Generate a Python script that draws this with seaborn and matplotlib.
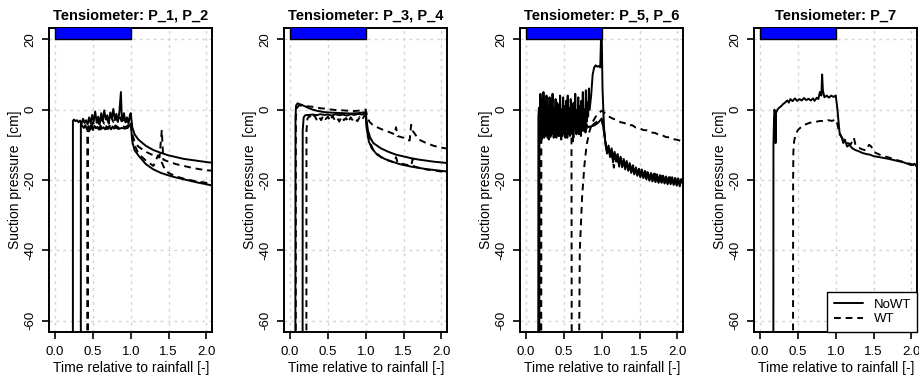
import matplotlib
matplotlib.use("Agg")
import matplotlib.pyplot as plt
from matplotlib.lines import Line2D
import seaborn as sns
import pandas as pd

sns.set_style("white")
plt.rcParams["font.family"] = ["Liberation Sans", "DejaVu Sans"]
for k in ["text.color", "axes.labelcolor", "xtick.color", "ytick.color"]:
    plt.rcParams[k] = "black"

# ---------------- data (time relative to rainfall, suction pressure cm) ----------------
titles = ["Tensiometer: P_1, P_2", "Tensiometer: P_3, P_4",
          "Tensiometer: P_5, P_6", "Tensiometer: P_7"]
x_ticks = [0.0, 0.5, 1.0, 1.5, 2.0]
x_tick_labels = ["0.0", "0.5", "1.0", "1.5", "2.0"]
y_ticks = [-60, -40, -20, 0, 20]
rain_start, rain_end = 0.0, 1.0
legend_labels = ["NoWT", "WT"]

p1_nowt = [(0.235, -100), (0.236, -3.2), (0.25, -2.8), (0.27, -3.3), (0.29, -3.0), (0.31, -3.6),
           (0.33, -3.1), (0.35, -4.0), (0.37, -2.6), (0.39, -3.8), (0.41, -3.0), (0.43, -4.2),
           (0.45, -2.2), (0.47, -3.9), (0.49, -1.5), (0.51, -3.4), (0.53, -0.5), (0.55, -3.6),
           (0.57, -2.0), (0.59, -4.1), (0.61, -1.0), (0.63, -3.3), (0.65, -0.2), (0.67, -2.8),
           (0.69, -1.6), (0.71, -4.0), (0.73, -0.8), (0.75, -2.5), (0.77, 0.2), (0.79, -3.0),
           (0.81, -1.2), (0.83, -3.5), (0.85, -0.6), (0.87, 5.0), (0.88, -1.5), (0.89, -3.2),
           (0.91, -1.0), (0.93, -3.6), (0.95, -2.2), (0.97, -4.0), (0.99, -1.4), (1.00, -1.0),
           (1.02, -5.0), (1.05, -7.0), (1.10, -8.5), (1.20, -10.3), (1.30, -11.5), (1.40, -12.3),
           (1.50, -13.0), (1.60, -13.5), (1.70, -14.0), (1.80, -14.3), (1.90, -14.6), (2.00, -14.9),
           (2.08, -15.1)]
p2_nowt = [(0.34, -100), (0.341, -4.0), (0.36, -4.6), (0.38, -5.2), (0.40, -4.4), (0.42, -5.6),
           (0.44, -4.8), (0.46, -5.4), (0.48, -4.2), (0.50, -5.8), (0.52, -4.6), (0.54, -5.3),
           (0.56, -4.9), (0.58, -5.7), (0.60, -4.5), (0.62, -5.4), (0.64, -5.0), (0.66, -5.6),
           (0.68, -4.7), (0.70, -5.5), (0.72, -5.0), (0.74, -5.6), (0.76, -4.8), (0.78, -5.4),
           (0.80, -5.1), (0.84, -5.5), (0.88, -5.2), (0.92, -5.4), (0.96, -5.2), (1.00, -4.0),
           (1.02, -9.0), (1.05, -11.5), (1.10, -13.0), (1.20, -15.5), (1.30, -17.0), (1.40, -18.0),
           (1.50, -18.7), (1.60, -19.3), (1.70, -19.8), (1.80, -20.3), (1.90, -20.8), (2.00, -21.2),
           (2.08, -21.6)]
p1_wt = [(0.425, -100), (0.426, -6.5), (0.44, -5.0), (0.46, -4.2), (0.48, -5.0), (0.50, -3.6),
         (0.53, -4.6), (0.56, -3.2), (0.59, -4.4), (0.62, -2.8), (0.65, -4.0), (0.68, -2.5),
         (0.71, -3.8), (0.74, -2.0), (0.77, -3.5), (0.80, -1.8), (0.83, -3.6), (0.86, -2.2),
         (0.89, -4.0), (0.92, -2.6), (0.95, -4.2), (0.98, -3.0), (1.00, -2.0), (1.02, -7.0),
         (1.05, -9.0), (1.10, -10.5), (1.20, -12.0), (1.30, -13.0), (1.38, -13.6), (1.41, -5.8),
         (1.43, -14.2), (1.50, -14.8), (1.60, -15.5), (1.70, -16.0), (1.80, -16.5), (1.90, -16.9),
         (2.00, -17.2), (2.08, -17.4)]
p2_wt = [(0.435, -100), (0.436, -7.5), (0.45, -6.0), (0.48, -5.2), (0.52, -5.8), (0.56, -5.0),
         (0.60, -5.6), (0.64, -4.8), (0.68, -5.5), (0.72, -4.6), (0.76, -5.3), (0.80, -4.5),
         (0.84, -5.2), (0.88, -4.4), (0.92, -5.0), (0.96, -4.6), (1.00, -3.5), (1.02, -8.0),
         (1.05, -10.0), (1.10, -12.5), (1.20, -14.5), (1.30, -16.0), (1.36, -13.0), (1.40, -14.5),
         (1.45, -17.0), (1.50, -18.0), (1.60, -19.0), (1.70, -19.6), (1.80, -20.1), (1.90, -20.5),
         (2.00, -20.8), (2.08, -21.0)]

p3_nowt = [(0.07, -100), (0.072, -2.0), (0.08, 1.2), (0.10, 1.8), (0.12, 1.6), (0.15, 1.4),
           (0.20, 0.9), (0.25, 0.4), (0.30, 0.0), (0.35, -0.3), (0.40, -0.5), (0.45, -0.7),
           (0.50, -0.8), (0.60, -0.9), (0.70, -1.0), (0.80, -1.1), (0.90, -1.0), (1.00, -0.7),
           (1.01, -3.0), (1.03, -6.0), (1.06, -8.0), (1.10, -9.5), (1.20, -11.0), (1.30, -12.0),
           (1.40, -12.8), (1.50, -13.3), (1.60, -13.8), (1.70, -14.2), (1.80, -14.5), (1.90, -14.8),
           (2.00, -15.0), (2.08, -15.2)]
p3_wt = [(0.075, -100), (0.077, -2.0), (0.09, 0.5), (0.12, 1.2), (0.16, 1.1), (0.20, 1.0),
         (0.25, 0.9), (0.30, 0.8), (0.35, 0.6), (0.40, 0.4), (0.45, 0.3), (0.50, 0.1), (0.55, 0.0),
         (0.60, -0.1), (0.65, -0.2), (0.70, -0.2), (0.75, -0.3), (0.80, -0.3), (0.85, -0.4),
         (0.90, -0.3), (0.95, -0.2), (1.00, 0.0), (1.02, -2.0), (1.05, -3.5), (1.10, -4.5),
         (1.20, -5.5), (1.30, -6.3), (1.38, -7.0), (1.40, -5.0), (1.42, -7.5), (1.50, -8.0),
         (1.58, -8.8), (1.60, -4.3), (1.62, -6.0), (1.70, -8.5), (1.80, -9.5), (1.90, -10.3),
         (2.00, -10.8), (2.08, -11.1)]
p4_nowt = [(0.165, -100), (0.167, -6.0), (0.18, -2.2), (0.20, -1.6), (0.25, -1.5), (0.30, -1.4),
           (0.35, -1.6), (0.40, -1.3), (0.45, -1.5), (0.50, -1.4), (0.55, -1.7), (0.60, -1.3),
           (0.65, -1.6), (0.70, -1.4), (0.75, -1.7), (0.80, -1.3), (0.85, -1.5), (0.90, -1.2),
           (0.95, -1.4), (1.00, -1.0), (1.01, -5.0), (1.04, -9.0), (1.08, -11.0), (1.15, -12.8),
           (1.25, -14.0), (1.35, -14.8), (1.45, -15.5), (1.60, -16.2), (1.80, -16.9), (2.00, -17.4),
           (2.08, -17.6)]
p4_wt = [(0.215, -100), (0.217, -6.0), (0.23, -2.5), (0.26, -1.8), (0.29, -2.6), (0.32, -1.6),
         (0.35, -2.8), (0.38, -1.9), (0.41, -3.0), (0.44, -1.7), (0.47, -2.7), (0.50, -2.0),
         (0.53, -3.2), (0.56, -1.8), (0.59, -2.9), (0.62, -2.2), (0.65, -3.4), (0.68, -2.0),
         (0.71, -3.0), (0.74, -2.4), (0.77, -3.6), (0.80, -2.2), (0.83, -3.1), (0.86, -2.5),
         (0.89, -3.3), (0.92, -2.1), (0.95, -2.9), (0.98, -1.8), (1.00, -1.5), (1.02, -6.0),
         (1.05, -9.0), (1.10, -11.5), (1.20, -13.5), (1.30, -14.5), (1.38, -15.0), (1.40, -13.5),
         (1.42, -15.0), (1.50, -15.5), (1.60, -16.0), (1.62, -14.0), (1.64, -16.2), (1.80, -17.0),
         (2.00, -17.6), (2.08, -17.8)]

p5_nowt = [(0.16, -100), (0.163, -2.0), (0.17, 0.5), (0.18, -7.0), (0.19, 4.5), (0.20, -5.0),
           (0.21, 3.0), (0.22, -8.0), (0.23, 5.0), (0.24, -3.0), (0.25, 2.0), (0.26, -7.5),
           (0.27, 4.0), (0.28, -4.0), (0.29, 1.0), (0.30, -8.5), (0.31, 3.5), (0.32, -6.0),
           (0.33, 2.5), (0.34, -3.5), (0.35, 4.5), (0.36, -7.0), (0.37, 0.5), (0.38, -5.0),
           (0.39, 3.0), (0.40, -8.0), (0.41, 2.0), (0.42, -4.5), (0.43, 1.5), (0.44, -7.5),
           (0.45, 4.0), (0.46, -3.0), (0.47, 0.0), (0.48, -6.5), (0.49, 3.5), (0.50, -5.0),
           (0.51, 1.0), (0.52, -8.0), (0.53, 2.5), (0.54, -4.0), (0.55, 4.0), (0.56, -6.0),
           (0.57, 0.5), (0.58, -7.5), (0.59, 3.0), (0.60, -3.5), (0.61, 1.5), (0.62, -9.0),
           (0.63, 2.0), (0.64, -5.0), (0.65, 4.5), (0.66, -6.5), (0.67, -0.5), (0.68, -4.0),
           (0.69, 3.5), (0.70, -7.0), (0.71, 1.0), (0.72, -5.5), (0.73, 2.5), (0.74, -3.0),
           (0.75, 5.0), (0.76, -6.0), (0.77, 0.0), (0.78, -4.5), (0.79, 5.5), (0.80, -3.5),
           (0.81, 2.0), (0.82, -2.0), (0.83, 6.0), (0.84, 0.0), (0.86, 4.0), (0.88, 10.0),
           (0.90, 12.0), (0.92, 12.6), (0.94, 12.2), (0.96, 12.4), (0.98, 12.0), (0.99, 20.0),
           (1.00, 20.5), (1.01, 6.0), (1.03, -5.0), (1.05, -10.0), (1.07, -12.5), (1.09, -10.8),
           (1.11, -13.5), (1.13, -11.8), (1.15, -15.0), (1.17, -12.6), (1.19, -14.8), (1.21, -13.2),
           (1.23, -16.2), (1.25, -13.8), (1.27, -16.0), (1.29, -14.5), (1.31, -17.0), (1.33, -15.0),
           (1.35, -17.2), (1.37, -15.6), (1.39, -18.0), (1.41, -16.2), (1.43, -18.4), (1.45, -16.6),
           (1.47, -18.8), (1.49, -17.0), (1.51, -19.2), (1.53, -17.4), (1.55, -19.4), (1.57, -17.8),
           (1.59, -19.8), (1.61, -18.0), (1.63, -20.2), (1.65, -18.2), (1.67, -20.4), (1.69, -18.4),
           (1.71, -20.6), (1.73, -18.6), (1.75, -20.8), (1.77, -18.8), (1.79, -20.8), (1.81, -19.0),
           (1.83, -21.0), (1.85, -19.2), (1.87, -21.2), (1.89, -19.4), (1.91, -21.2), (1.93, -19.4),
           (1.95, -21.4), (1.97, -19.6), (1.99, -21.6), (2.01, -19.6), (2.03, -21.8), (2.05, -19.8),
           (2.08, -21.0)]
p6_nowt = [(0.175, -100), (0.177, -3.0), (0.185, -6.0), (0.195, -1.0), (0.205, -8.5), (0.215, 0.0),
           (0.225, -6.0), (0.235, -2.5), (0.245, -7.0), (0.255, 1.0), (0.265, -5.5), (0.275, -1.5),
           (0.285, -8.0), (0.295, -2.0), (0.305, -6.5), (0.315, 0.5), (0.325, -7.5), (0.335, -3.0),
           (0.345, -5.0), (0.355, -0.5), (0.365, -8.0), (0.375, -2.0), (0.385, -6.0), (0.395, 1.5),
           (0.405, -5.5), (0.415, -2.5), (0.425, -7.5), (0.435, -1.0), (0.445, -6.0), (0.455, -3.5),
           (0.465, -8.5), (0.475, 0.0), (0.485, -5.0), (0.495, -2.0), (0.505, -7.0), (0.515, 1.0),
           (0.525, -6.5), (0.535, -3.0), (0.545, -8.0), (0.555, -1.5), (0.565, -5.5), (0.575, 0.5),
           (0.585, -7.0), (0.595, -2.5), (0.605, -6.0), (0.615, -1.0), (0.625, -8.0), (0.635, -3.0),
           (0.645, -5.5), (0.655, 0.0), (0.665, -7.0), (0.675, -2.0), (0.685, -6.5), (0.695, -1.5),
           (0.705, -5.0), (0.715, -3.5), (0.725, -7.5), (0.735, -1.0), (0.745, -6.0), (0.755, -2.5),
           (0.765, -5.5), (0.775, -3.0), (0.785, -6.5), (0.795, -4.0), (0.82, -5.0), (0.85, -4.8),
           (0.90, -4.5), (0.95, -3.8), (1.00, -2.5), (1.02, -5.0), (1.05, -9.5), (1.07, -12.0),
           (1.09, -10.2), (1.11, -13.0), (1.13, -11.0), (1.15, -13.8), (1.17, -12.0), (1.19, -14.6),
           (1.21, -12.6), (1.23, -15.2), (1.25, -13.4), (1.27, -16.4), (1.29, -14.0), (1.31, -16.2),
           (1.33, -14.6), (1.35, -17.4), (1.37, -15.2), (1.39, -17.6), (1.41, -15.8), (1.43, -18.2),
           (1.45, -16.4), (1.47, -18.6), (1.49, -16.8), (1.51, -19.0), (1.53, -17.0), (1.55, -19.4),
           (1.57, -17.4), (1.59, -19.6), (1.61, -17.8), (1.63, -20.0), (1.65, -18.0), (1.67, -20.2),
           (1.69, -18.2), (1.71, -20.4), (1.73, -18.4), (1.75, -20.6), (1.77, -18.6), (1.79, -20.6),
           (1.81, -18.8), (1.83, -20.8), (1.85, -19.0), (1.87, -21.0), (1.89, -19.2), (1.91, -21.0),
           (1.93, -19.2), (1.95, -21.2), (1.97, -19.4), (1.99, -21.4), (2.01, -19.6), (2.03, -21.6),
           (2.05, -19.8), (2.08, -21.4)]
p5_wt = [(0.19, -100), (0.192, -5.0), (0.20, -7.5), (0.22, -4.0), (0.24, -8.0), (0.26, -3.5),
         (0.28, -7.0), (0.30, -4.5), (0.32, -8.5), (0.34, -3.0), (0.36, -6.5), (0.38, -4.0),
         (0.40, -7.5), (0.42, -3.5), (0.44, -6.0), (0.46, -4.5), (0.48, -8.0), (0.50, -3.0),
         (0.52, -6.5), (0.54, -4.0), (0.56, -7.0), (0.58, -4.5), (0.60, -5.5), (0.605, -100),
         (0.69, -100), (0.71, -40.0), (0.74, -25.0), (0.77, -16.0), (0.80, -10.0), (0.84, -6.0),
         (0.88, -3.5), (0.92, -2.0), (0.96, -1.0), (1.00, -0.3), (1.03, -0.8), (1.08, -1.8),
         (1.15, -2.6), (1.20, -2.9), (1.25, -3.6), (1.30, -3.8), (1.35, -4.5), (1.40, -4.4),
         (1.45, -5.1), (1.50, -5.3), (1.55, -5.8), (1.60, -5.9), (1.65, -6.5), (1.70, -6.6),
         (1.75, -7.1), (1.80, -7.3), (1.85, -7.8), (1.90, -7.9), (1.95, -8.4), (2.00, -8.6),
         (2.08, -9.1)]
p6_wt = [(0.20, -100), (0.202, -6.0), (0.22, -3.0), (0.25, -7.0), (0.28, -2.5), (0.31, -6.0),
         (0.34, -3.5), (0.37, -7.5), (0.40, -2.8), (0.43, -6.5), (0.46, -4.0), (0.49, -7.0),
         (0.52, -3.0), (0.55, -6.0), (0.58, -4.2), (0.61, -7.0), (0.64, -3.6), (0.67, -6.2),
         (0.70, -4.0), (0.73, -5.8), (0.76, -4.4), (0.80, -5.2), (0.85, -5.0), (0.90, -4.0),
         (0.95, -3.2), (1.00, -2.8), (1.03, -6.0), (1.06, -10.5), (1.10, -12.0), (1.14, -13.5),
         (1.16, -16.5), (1.18, -12.8), (1.22, -15.0), (1.26, -14.0), (1.30, -16.0), (1.34, -15.2),
         (1.38, -17.0), (1.42, -16.0), (1.46, -17.8), (1.50, -17.0), (1.55, -18.6), (1.60, -17.8),
         (1.65, -19.0), (1.70, -18.2), (1.75, -19.6), (1.80, -18.8), (1.85, -20.0), (1.90, -19.2),
         (1.95, -20.4), (2.00, -19.8), (2.04, -21.2), (2.08, -20.5)]

p7_nowt = [(0.175, -100), (0.177, -10.0), (0.185, -2.0), (0.19, 0.0), (0.20, -1.0), (0.205, -9.5),
           (0.21, -1.0), (0.23, 0.0), (0.25, 0.5), (0.28, 1.0), (0.30, 1.5), (0.33, 2.0),
           (0.36, 2.6), (0.38, 2.0), (0.40, 3.0), (0.43, 2.4), (0.46, 3.2), (0.49, 2.5),
           (0.52, 3.0), (0.55, 2.6), (0.58, 3.3), (0.61, 2.7), (0.64, 3.1), (0.67, 2.6),
           (0.70, 3.2), (0.72, 2.5), (0.75, 3.4), (0.77, 3.0), (0.79, 5.0), (0.81, 4.0),
           (0.82, 10.0), (0.83, 5.5), (0.85, 3.5), (0.88, 4.0), (0.91, 3.4), (0.94, 4.0),
           (0.97, 3.6), (1.00, 4.0), (1.02, 0.5), (1.05, -6.5), (1.08, -8.0), (1.10, -9.5),
           (1.12, -8.5), (1.15, -10.5), (1.18, -10.0), (1.22, -11.0), (1.26, -11.5), (1.30, -11.8),
           (1.35, -12.3), (1.40, -12.6), (1.45, -12.8), (1.50, -13.2), (1.60, -13.6), (1.70, -14.0),
           (1.80, -14.5), (1.90, -15.0), (2.00, -15.8), (2.04, -15.4), (2.08, -16.5)]
p7_wt = [(0.435, -100), (0.437, -20.0), (0.44, -12.0), (0.45, -9.0), (0.47, -7.0), (0.50, -5.8),
         (0.55, -4.8), (0.60, -4.2), (0.65, -3.8), (0.70, -3.5), (0.75, -3.4), (0.80, -3.2),
         (0.85, -3.3), (0.90, -3.0), (0.95, -3.2), (1.00, -2.8), (1.02, -4.0), (1.05, -7.0),
         (1.10, -8.5), (1.15, -9.5), (1.20, -9.8), (1.24, -8.0), (1.26, -10.0), (1.30, -10.8),
         (1.35, -11.3), (1.40, -11.6), (1.44, -10.0), (1.47, -10.5), (1.50, -12.0), (1.55, -12.5),
         (1.60, -13.0), (1.70, -13.6), (1.80, -14.3), (1.90, -14.9), (2.00, -15.5), (2.08, -16.2)]

panels = [
    [("P_1", "NoWT", p1_nowt), ("P_2", "NoWT", p2_nowt), ("P_1", "WT", p1_wt), ("P_2", "WT", p2_wt)],
    [("P_3", "NoWT", p3_nowt), ("P_4", "NoWT", p4_nowt), ("P_3", "WT", p3_wt), ("P_4", "WT", p4_wt)],
    [("P_5", "NoWT", p5_nowt), ("P_6", "NoWT", p6_nowt), ("P_5", "WT", p5_wt), ("P_6", "WT", p6_wt)],
    [("P_7", "NoWT", p7_nowt), ("P_7", "WT", p7_wt)],
]

# ---------------- figure ----------------
W, H = 920, 376
fig = plt.figure(figsize=(W / 100, H / 100), dpi=100)
lefts = [49, 284, 520, 754]
DASH = (3.5, 2.5)
LW = 1.4

for i, (title, series) in enumerate(zip(titles, panels)):
    ax = fig.add_axes([lefts[i] / W, 44 / H, 163.5 / W, 304 / H])
    rows = []
    for sensor, cond, pts in series:
        for t, p in pts:
            rows.append({"t": t, "p": p, "unit": sensor + cond, "cond": cond})
    df = pd.DataFrame(rows)
    sns.lineplot(data=df, x="t", y="p", units="unit", style="cond",
                 style_order=legend_labels, dashes={"NoWT": "", "WT": DASH},
                 estimator=None, sort=False, color="black", lw=LW, legend=False,
                 ax=ax, zorder=2)
    # rainfall bar
    ax.bar([rain_start], [10], width=rain_end - rain_start, bottom=20, align="edge",
           color="blue", edgecolor="black", linewidth=1.0, zorder=3)

    ax.set_xlim(-0.08, 2.08)
    ax.set_ylim(-63.2, 23.2)
    ax.set_xticks(x_ticks)
    ax.set_xticklabels(x_tick_labels)
    ax.set_yticks(y_ticks)
    ax.set_yticklabels([str(v) for v in y_ticks], rotation=90, va="center")
    ax.grid(True, color="lightgray", linestyle=(0, (2, 3)), linewidth=1.0)
    ax.set_axisbelow(True)
    for s in ax.spines.values():
        s.set_linewidth(1.4)
        s.set_color("black")
    ax.tick_params(axis="both", direction="out", length=5, width=1.2, color="black",
                   labelcolor="black", labelsize=9.5, bottom=True, left=True)
    ax.tick_params(axis="x", pad=5)
    ax.tick_params(axis="y", pad=4)
    ax.set_xlabel("Time relative to rainfall [-]", fontsize=10, labelpad=2, color="black")
    ax.set_ylabel("Suction pressure  [cm]", fontsize=10, labelpad=2, color="black")
    ax.set_title(title, fontsize=10.5, fontweight="bold", pad=6, color="black")

    if i == 3:
        handles = [Line2D([0], [0], color="black", lw=LW),
                   Line2D([0], [0], color="black", lw=LW, dashes=DASH)]
        leg = ax.legend(handles, legend_labels, loc="lower right", frameon=True,
                        fancybox=False, edgecolor="black", framealpha=1,
                        borderaxespad=0, handlelength=2.2, fontsize=9.5,
                        borderpad=0.5, labelspacing=0.2, handletextpad=0.8)
        leg.get_frame().set_linewidth(1.0)
        for t in leg.get_texts():
            t.set_color("black")

fig.savefig("out.png", dpi=100)
